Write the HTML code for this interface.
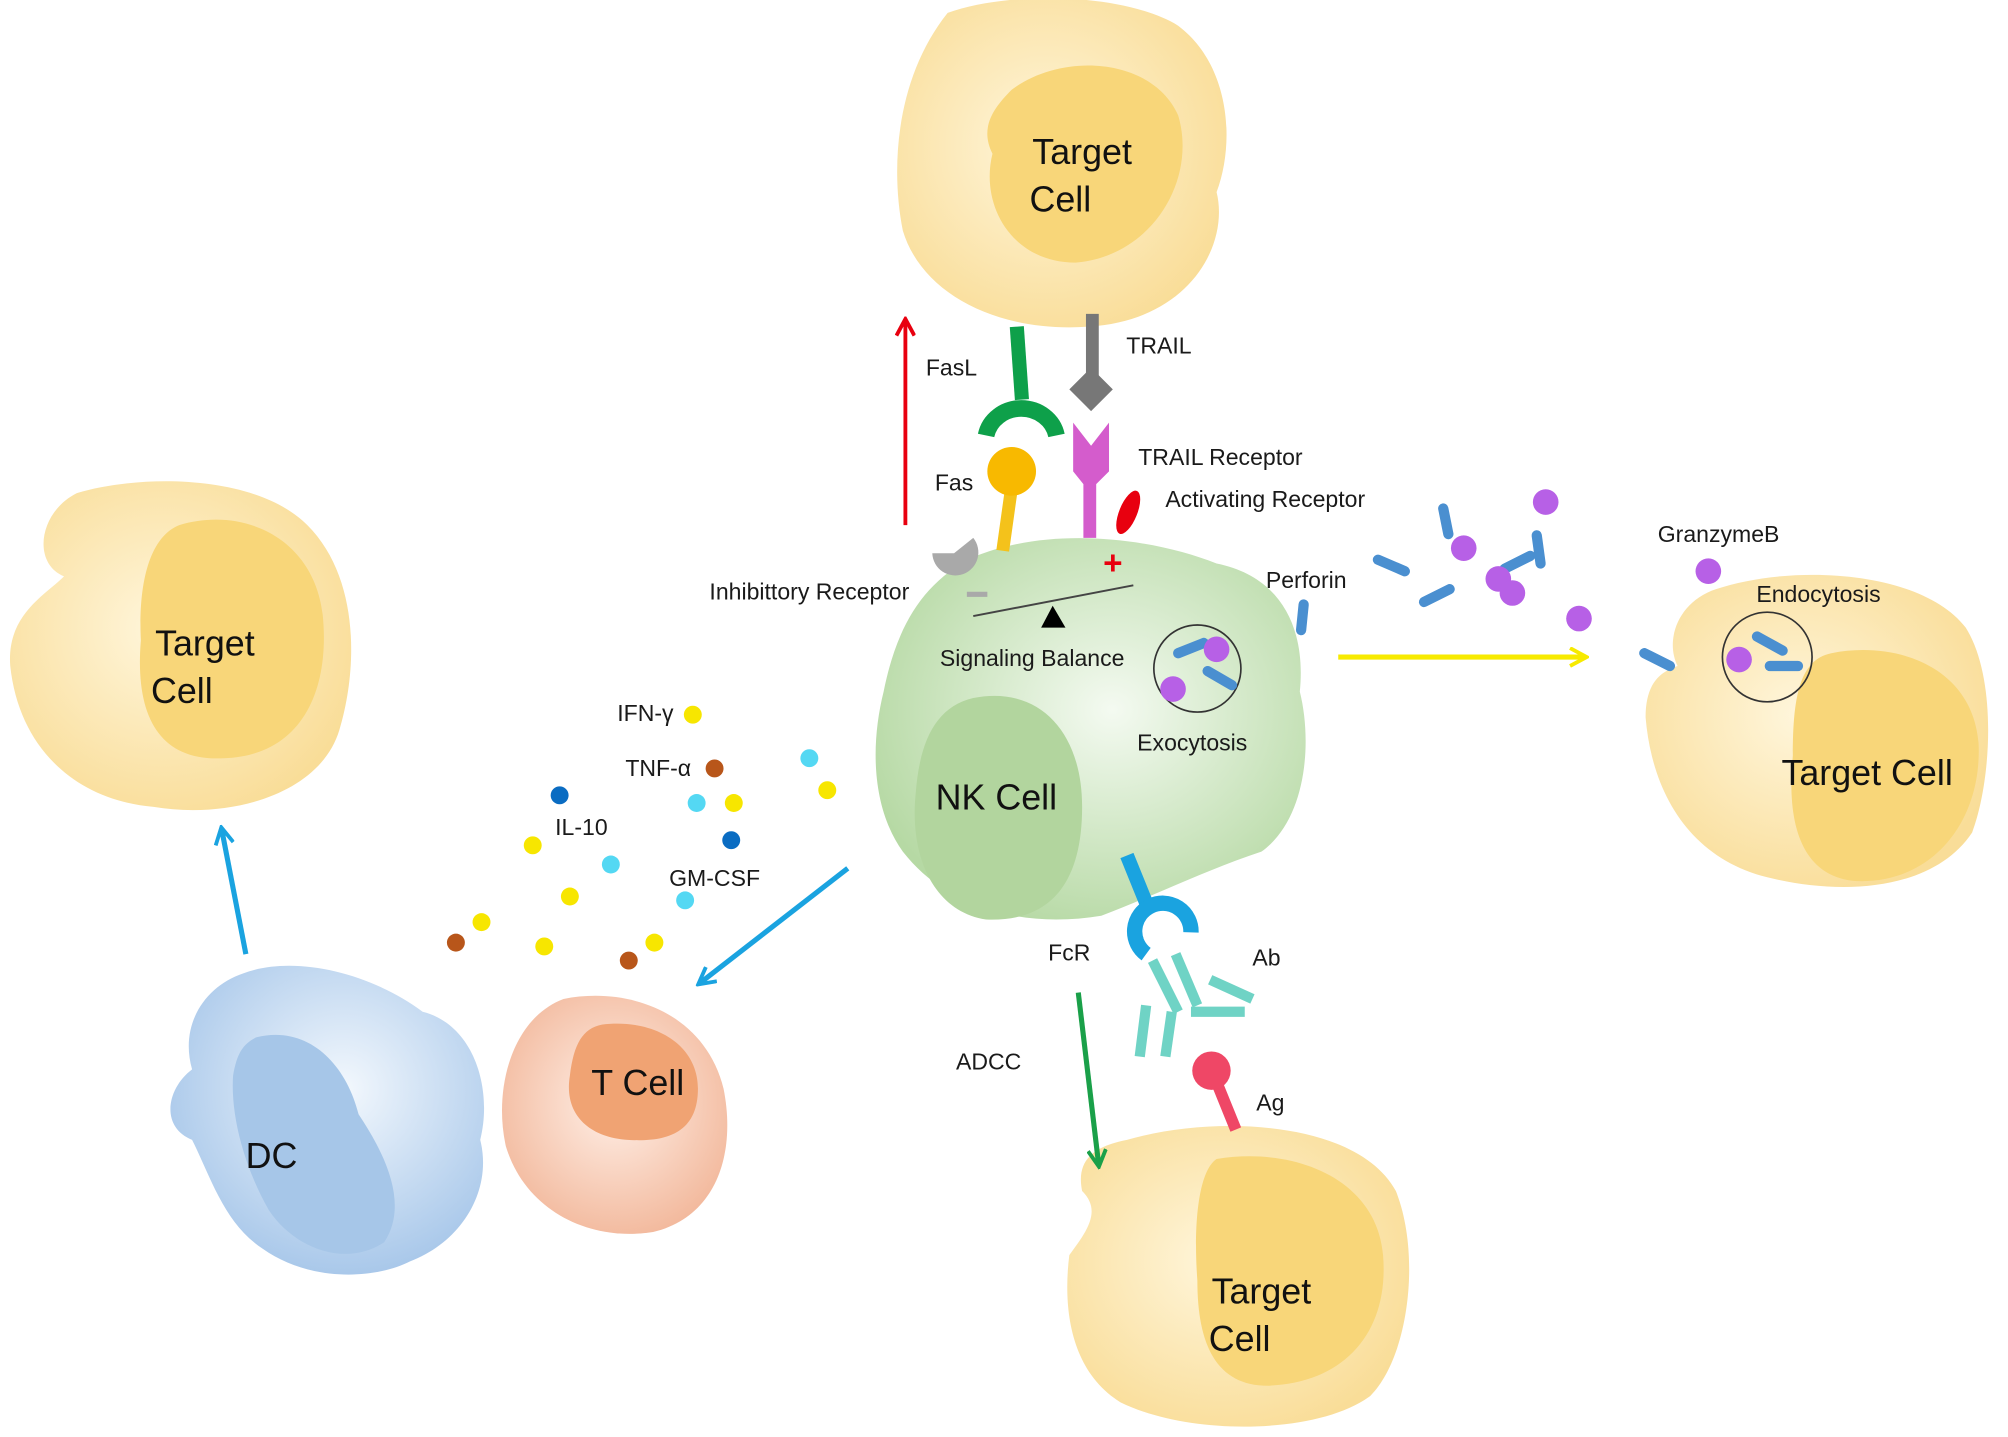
<!DOCTYPE html>
<html><head><meta charset="utf-8"><style>html,body{margin:0;padding:0;background:#fff}svg{display:block}</style></head><body>
<svg width="2008" height="1437" viewBox="0 0 1568 1122" xmlns="http://www.w3.org/2000/svg" font-family="Liberation Sans, sans-serif">
<defs>
<radialGradient id="ty" cx="0.45" cy="0.45" r="0.6"><stop offset="0" stop-color="#fff6dc"/><stop offset="1" stop-color="#f9dd98"/></radialGradient>
<radialGradient id="tg" cx="0.55" cy="0.45" r="0.6"><stop offset="0" stop-color="#f4faf1"/><stop offset="1" stop-color="#b6d9a4"/></radialGradient>
<radialGradient id="tb" cx="0.55" cy="0.4" r="0.6"><stop offset="0" stop-color="#f3f8fd"/><stop offset="1" stop-color="#a9c8ea"/></radialGradient>
<radialGradient id="ts" cx="0.5" cy="0.45" r="0.6"><stop offset="0" stop-color="#fff0e8"/><stop offset="1" stop-color="#f2b79a"/></radialGradient>
<marker id="ar" markerWidth="16" markerHeight="16" refX="13" refY="8" orient="auto" markerUnits="userSpaceOnUse"><path d="M1,1 L14,8 L1,15" fill="none" stroke="context-stroke" stroke-width="3"/></marker>
</defs>
<path d="M740,10 C790,-8 880,-5 920,20 C960,50 965,110 950,150 C960,190 930,250 850,255 C780,260 720,230 705,180 C695,130 700,60 740,10Z" fill="url(#ty)"/>
<path d="M790,70 C830,40 900,45 920,90 C935,140 900,200 840,205 C790,205 765,160 775,120 C765,100 775,85 790,70Z" fill="#f8d679"/>
<text x="845" y="128" font-size="28" text-anchor="middle" fill="#111">Target</text>
<text x="828" y="165" font-size="28" text-anchor="middle" fill="#111">Cell</text>
<path d="M60,385 C110,370 200,370 240,410 C280,450 280,520 265,570 C250,620 180,640 120,630 C60,625 15,585 8,520 C5,480 35,465 50,450 C25,440 30,400 60,385Z" fill="url(#ty)"/>
<path d="M140,410 C190,395 245,420 252,480 C258,540 235,590 175,592 C125,595 105,560 110,500 C108,460 115,420 140,410Z" fill="#f8d679"/>
<text x="160" y="512" font-size="28" text-anchor="middle" fill="#111">Target</text>
<text x="142" y="549" font-size="28" text-anchor="middle" fill="#111">Cell</text>
<path d="M1340,460 C1400,440 1500,445 1535,490 C1560,530 1555,610 1540,650 C1510,695 1440,700 1380,685 C1320,670 1290,620 1285,560 C1285,535 1295,525 1310,520 C1300,500 1310,470 1340,460Z" fill="url(#ty)"/>
<path d="M1430,510 C1480,500 1540,520 1545,580 C1548,640 1510,690 1450,688 C1405,685 1395,640 1400,590 C1400,545 1405,515 1430,510Z" fill="#f8d679"/>
<text x="1458" y="613" font-size="28" text-anchor="middle" fill="#111">Target Cell</text>
<path d="M880,890 C950,870 1060,875 1090,930 C1110,980 1100,1060 1070,1090 C1030,1120 930,1122 875,1095 C835,1070 830,1020 835,980 C850,960 860,945 845,930 C840,905 855,895 880,890Z" fill="url(#ty)"/>
<path d="M950,905 C1010,895 1075,920 1080,980 C1085,1040 1050,1080 990,1082 C950,1082 935,1050 935,1000 C932,960 935,915 950,905Z" fill="#f8d679"/>
<text x="985" y="1018" font-size="28" text-anchor="middle" fill="#111">Target</text>
<text x="968" y="1055" font-size="28" text-anchor="middle" fill="#111">Cell</text>
<path d="M760,435 C820,410 900,420 950,440 C1000,450 1020,490 1015,540 C1025,580 1020,640 985,665 C940,680 900,700 860,715 C800,725 740,710 705,665 C680,630 680,580 690,540 C700,490 720,455 760,435Z" fill="url(#tg)"/>
<path d="M760,545 C810,535 845,570 845,630 C845,690 820,720 770,718 C730,712 710,670 715,620 C718,580 730,552 760,545Z" fill="#b2d59e"/>
<text x="778" y="632" font-size="28" text-anchor="middle" fill="#111">NK Cell</text>
<path d="M190,760 C230,745 290,760 330,790 C370,800 385,850 375,890 C385,930 360,970 320,985 C290,1000 240,1000 205,975 C175,955 165,920 150,890 C125,880 130,850 150,835 C140,800 160,770 190,760Z" fill="url(#tb)"/>
<path d="M200,810 C240,800 270,830 280,870 C300,900 320,940 300,970 C270,990 230,975 210,945 C190,910 180,870 182,840 C185,822 190,815 200,810Z" fill="#a6c6e8"/>
<text x="212" y="912" font-size="28" text-anchor="middle" fill="#111">DC</text>
<path d="M440,780 C490,770 550,790 565,850 C575,900 560,950 510,962 C460,970 410,945 395,895 C385,850 400,795 440,780Z" fill="url(#ts)"/>
<path d="M470,800 C510,795 545,815 545,850 C545,885 520,892 490,890 C460,888 440,870 445,840 C448,815 455,803 470,800Z" fill="#f0a373"/>
<text x="498" y="855" font-size="28" text-anchor="middle" fill="#111">T Cell</text>
<line x1="794" y1="255" x2="798" y2="312" stroke="#0ea04a" stroke-width="11"/>
<path d="M770,340 A28,26 0 0 1 825,340" fill="none" stroke="#0ea04a" stroke-width="13"/>
<line x1="853" y1="245" x2="853" y2="295" stroke="#777" stroke-width="10"/>
<rect x="840" y="292" width="24" height="24" fill="#777" transform="rotate(45 852 304)"/>
<path d="M838,330 L852,348 L866,330 L866,368 L856,378 L856,420 L846,420 L846,378 L838,368Z" fill="#d45ccc"/>
<line x1="790" y1="380" x2="783" y2="430" stroke="#f4c21b" stroke-width="10"/>
<circle cx="790" cy="368" r="19" fill="#f8b900"/>
<path d="M745,432 L760,420 A18,18 0 1 1 728,432Z" fill="#a9a9a9"/>
<ellipse cx="881" cy="400" rx="7" ry="18" transform="rotate(22 881 400)" fill="#e8000f"/>
<text x="869" y="448" font-size="26" fill="#e8000f" text-anchor="middle" font-weight="bold">+</text>
<line x1="755" y1="464" x2="771" y2="464" stroke="#a9a9a9" stroke-width="4"/>
<line x1="760" y1="481" x2="885" y2="457" stroke="#444" stroke-width="1.5"/>
<path d="M822,473 L813,490 L832,490Z" fill="#000"/>
<line x1="707" y1="410" x2="707" y2="250" stroke="#e8000f" stroke-width="3" marker-end="url(#ar)"/>
<circle cx="935" cy="522" r="34" fill="none" stroke="#333" stroke-width="1.3"/>
<g stroke="#4a8fd0" stroke-width="8" stroke-linecap="round">
<line x1="920" y1="510" x2="940" y2="502"/><line x1="943" y1="524" x2="962" y2="535"/>
<line x1="1018" y1="472" x2="1016" y2="492"/><line x1="1076" y1="437" x2="1097" y2="446"/>
<line x1="1112" y1="470" x2="1132" y2="460"/><line x1="1127" y1="397" x2="1131" y2="417"/>
<line x1="1175" y1="444" x2="1195" y2="434"/><line x1="1200" y1="418" x2="1203" y2="440"/>
<line x1="1284" y1="510" x2="1304" y2="520"/>
<line x1="1372" y1="497" x2="1392" y2="508"/><line x1="1382" y1="520" x2="1404" y2="520"/>
</g>
<g fill="#b760e6">
<circle cx="950" cy="507" r="10"/><circle cx="916" cy="538" r="10"/>
<circle cx="1207" cy="392" r="10"/><circle cx="1143" cy="428" r="10"/><circle cx="1170" cy="452" r="10"/><circle cx="1181" cy="463" r="10"/><circle cx="1233" cy="483" r="10"/><circle cx="1334" cy="446" r="10"/><circle cx="1358" cy="515" r="10"/>
</g>
<circle cx="1380" cy="513" r="35" fill="none" stroke="#333" stroke-width="1.3"/>
<line x1="1045" y1="513" x2="1238" y2="513" stroke="#f7ea00" stroke-width="4" marker-end="url(#ar)"/>
<line x1="880" y1="668" x2="895" y2="705" stroke="#1aa3e0" stroke-width="11"/>
<path d="M930,728 A22,22 0 1 0 895,745" fill="none" stroke="#1aa3e0" stroke-width="12"/>
<g stroke="#6fd3c5" stroke-width="8">
<line x1="900" y1="750" x2="920" y2="790"/><line x1="918" y1="745" x2="935" y2="785"/>
<line x1="930" y1="790" x2="972" y2="790"/><line x1="945" y1="765" x2="978" y2="780"/>
<line x1="895" y1="785" x2="890" y2="825"/><line x1="915" y1="790" x2="910" y2="825"/>
</g>
<line x1="950" y1="845" x2="965" y2="882" stroke="#ef4766" stroke-width="9"/>
<circle cx="946" cy="836" r="15" fill="#ef4766"/>
<line x1="842" y1="775" x2="858" y2="910" stroke="#1aa049" stroke-width="4" marker-end="url(#ar)"/>
<line x1="662" y1="678" x2="546" y2="768" stroke="#1aa3e0" stroke-width="4" marker-end="url(#ar)"/>
<line x1="192" y1="745" x2="173" y2="647" stroke="#1aa3e0" stroke-width="4" marker-end="url(#ar)"/>
<g>
<circle cx="541" cy="558" r="7" fill="#f7e600"/><circle cx="558" cy="600" r="7" fill="#b8561a"/>
<circle cx="632" cy="592" r="7" fill="#54d8f3"/><circle cx="646" cy="617" r="7" fill="#f7e600"/>
<circle cx="544" cy="627" r="7" fill="#54d8f3"/><circle cx="573" cy="627" r="7" fill="#f7e600"/>
<circle cx="437" cy="621" r="7" fill="#0a6cc2"/><circle cx="571" cy="656" r="7" fill="#0a6cc2"/>
<circle cx="416" cy="660" r="7" fill="#f7e600"/><circle cx="477" cy="675" r="7" fill="#54d8f3"/>
<circle cx="535" cy="703" r="7" fill="#54d8f3"/><circle cx="445" cy="700" r="7" fill="#f7e600"/>
<circle cx="376" cy="720" r="7" fill="#f7e600"/><circle cx="356" cy="736" r="7" fill="#b8561a"/>
<circle cx="425" cy="739" r="7" fill="#f7e600"/><circle cx="491" cy="750" r="7" fill="#b8561a"/>
<circle cx="511" cy="736" r="7" fill="#f7e600"/>
</g>
<g font-size="18" fill="#1a1a1a" text-anchor="middle">
<text x="743" y="293">FasL</text><text x="905" y="276">TRAIL</text>
<text x="953" y="363">TRAIL Receptor</text><text x="745" y="383">Fas</text>
<text x="988" y="396">Activating Receptor</text><text x="632" y="468">Inhibittory Receptor</text>
<text x="806" y="520">Signaling Balance</text><text x="931" y="586">Exocytosis</text>
<text x="1020" y="459">Perforin</text><text x="1342" y="423">GranzymeB</text>
<text x="1420" y="470">Endocytosis</text>
<text x="835" y="750">FcR</text><text x="989" y="754">Ab</text><text x="992" y="867">Ag</text>
<text x="772" y="835">ADCC</text>
<text x="504" y="563">IFN-γ</text><text x="514" y="606">TNF-α</text>
<text x="454" y="652">IL-10</text><text x="558" y="692">GM-CSF</text>
</g>
</svg>
</body></html>
